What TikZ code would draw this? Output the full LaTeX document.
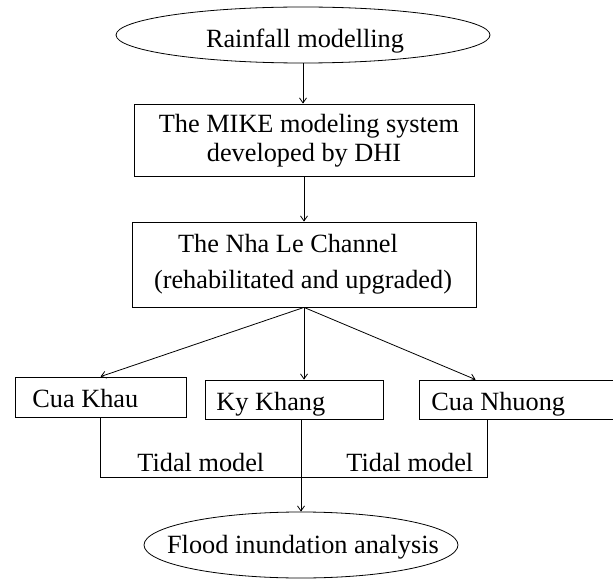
\documentclass[tikz,border=0pt]{standalone}
\usepackage{fontspec}
\setmainfont{Liberation Serif}
\usetikzlibrary{arrows.meta,shapes.geometric,calc}
\begin{document}
\begin{tikzpicture}[x=1pt,y=-1pt,
  line width=0.8pt,
  shapebox/.style={draw,rectangle,inner sep=0pt,anchor=center},
  oval/.style={draw,ellipse,inner sep=0pt,anchor=center},
  txt/.style={inner sep=0pt,anchor=base,font=\fontsize{26.3}{30}\selectfont},
  ltxt/.style={txt,anchor=base west},
  arr/.style={-{Straight Barb[length=5pt,width=7pt]}}]
\path[use as bounding box] (0,0) rectangle (613,580);
\clip (0,0) rectangle (613,580);
% shapes
\node[oval,minimum width=374pt,minimum height=56pt] (rain) at (303,35) {};
\node[shapebox,minimum width=340pt,minimum height=72pt] (mike) at (304,140) {};
\node[shapebox,minimum width=344pt,minimum height=85pt] (nhale) at (304,264.5) {};
\node[shapebox,minimum width=171pt,minimum height=40pt] (cuakhau) at (100.5,397) {};
\node[shapebox,minimum width=178pt,minimum height=39pt] (kykhang) at (294,399.5) {};
\node[shapebox,minimum width=221pt,minimum height=39pt] (cuanhuong) at (529.5,399.5) {};
\node[oval,minimum width=314pt,minimum height=66pt] (flood) at (301,545) {};
% texts
\node[txt] (raint) at (305,48) {Rainfall modelling};
\node[txt] (miket1) at (309,133) {The MIKE modeling system};
\node[txt] (miket2) at (304,162) {developed by DHI};
\node[txt] (nhalet1) at (288,252) {The Nha Le Channel};
\node[txt] (nhalet2) at (303,288) {(rehabilitated and upgraded)};
\node[ltxt] (cuakhaut) at (32,407) {Cua Khau};
\node[ltxt] (kykhangt) at (216,410) {Ky Khang};
\node[ltxt] (cuanhuongt) at (431,410) {Cua Nhuong};
\node[ltxt] (tidal1) at (137,471) {Tidal model};
\node[ltxt] (tidal2) at (346,471) {Tidal model};
\node[txt] (floodt) at (303,553) {Flood inundation analysis};
% connectors
\draw[arr] (rain.south) -- (rain.south |- mike.north);
\draw[arr] (mike.south) -- (nhale.north);
\draw[arr] (nhale.south) -- (cuakhau.north);
\draw[arr] (nhale.south) -- (nhale.south |- kykhang.north);
\draw[arr] (nhale.south) -- ([xshift=57pt]cuanhuong.north west);
\coordinate (tidalR) at (487,477);
\draw (cuakhau.south) |- (tidalR) -- (tidalR |- cuanhuong.south);
\draw[arr] (kykhang.south -| flood.north) -- (flood.north);
\end{tikzpicture}
\end{document}
